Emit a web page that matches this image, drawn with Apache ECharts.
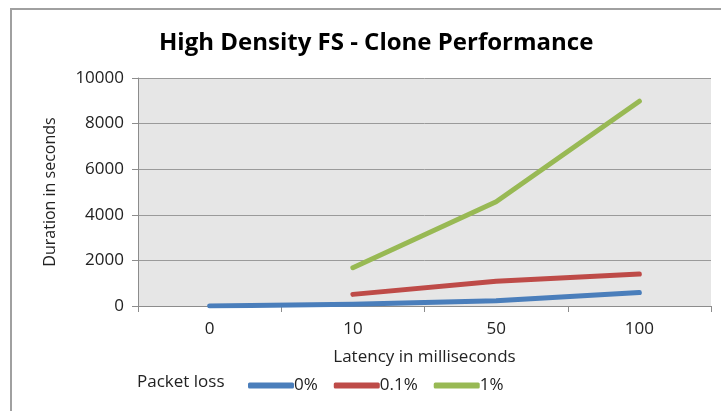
<!DOCTYPE html>
<html><head><meta charset="utf-8">
<script src="https://cdn.jsdelivr.net/npm/echarts@6/dist/echarts.min.js"></script>
<style>html,body{margin:0;padding:0;background:#fff}#c{width:721px;height:411px}</style>
</head><body><div id="c"></div>
<script>
const categories = ['0', '10', '50', '100'];
const loss0 = [0, 80, 230, 590];
const loss01 = ['-', 510, 1090, 1400];
const loss1 = ['-', 1680, 4570, 8980];
const seriesNames = ['0%', '0.1%', '1%'];
const colors = ['#4a7ebb', '#be4b48', '#98b954'];

const font = '"Open Sans", "Liberation Sans", sans-serif';
const chart = echarts.init(document.getElementById('c'));
const mk = (name, data, color) => ({
  name, type: 'line', data, showSymbol: false, symbol: 'none',
  lineStyle: { width: 5, color, cap: 'round', join: 'round' },
  itemStyle: { color }, connectNulls: false
});
chart.setOption({
  animation: false,
  title: { text: 'High Density FS - Clone Performance', left: 154, top: 26,
    textStyle: { fontFamily: font, fontSize: 24, fontWeight: 'bold', color: '#000' } },
  graphic: [
    { type: 'line', shape: { x1: 10, y1: 9, x2: 721, y2: 9 }, style: { stroke: '#a0a0a0', lineWidth: 2 }, silent: true },
    { type: 'line', shape: { x1: 11, y1: 9, x2: 11, y2: 411 }, style: { stroke: '#a0a0a0', lineWidth: 2 }, silent: true },
    { type: 'text', left: 137, top: 374, style: { text: 'Packet loss', font: '17px ' + font, fill: '#222' } }
  ],
  grid: { left: 138, right: 10, top: 78, bottom: 105, show: true, backgroundColor: '#e6e6e6', borderWidth: 0 },
  legend: { left: 243, top: 372, itemWidth: 46, itemHeight: 6, itemGap: 16, icon: 'roundRect',
    textStyle: { fontFamily: font, fontSize: 17, color: '#222', padding: [0, 0, 0, -5] },
    data: seriesNames },
  xAxis: { type: 'category', data: categories, boundaryGap: true,
    name: 'Latency in milliseconds', nameLocation: 'middle', nameGap: 43,
    nameTextStyle: { fontFamily: font, fontSize: 17, color: '#222' },
    axisLine: { lineStyle: { color: '#8c8c8c' } },
    axisTick: { show: true, length: 6, lineStyle: { color: '#8c8c8c' } },
    axisLabel: { fontFamily: font, fontSize: 17, color: '#222', margin: 15 } },
  yAxis: { type: 'value', min: 0, max: 10000, interval: 2000,
    name: 'Duration in seconds', nameLocation: 'middle', nameGap: 80, nameRotate: 90,
    nameTextStyle: { fontFamily: font, fontSize: 16, color: '#222' },
    axisLine: { show: true, lineStyle: { color: '#8c8c8c' } },
    axisTick: { show: true, length: 6, lineStyle: { color: '#8c8c8c' } },
    splitLine: { lineStyle: { color: '#9a9a9a', width: 1 } },
    axisLabel: { fontFamily: font, fontSize: 17, color: '#222', margin: 14, formatter: v => String(v) } },
  series: [mk(seriesNames[0], loss0, colors[0]), mk(seriesNames[1], loss01, colors[1]), mk(seriesNames[2], loss1, colors[2])]
});
</script></body></html>
